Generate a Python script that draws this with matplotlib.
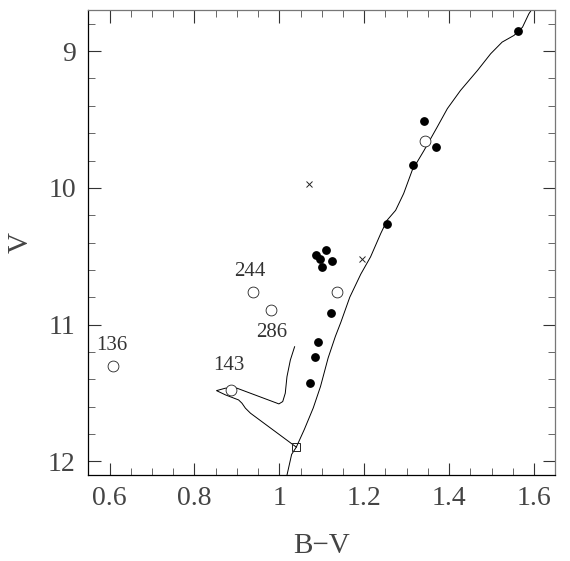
import matplotlib
matplotlib.use("Agg")
import matplotlib.pyplot as plt
from matplotlib.ticker import MultipleLocator

plt.rcParams['font.family'] = ['Liberation Serif', 'DejaVu Serif']

# member stars (filled), non-members / special (open), crosses, turnoff square
filled_bv = [1.562, 1.340, 1.369, 1.316, 1.254, 1.086, 1.110, 1.097, 1.124, 1.101,
             1.121, 1.092, 1.085, 1.073]
filled_v = [8.855, 9.512, 9.701, 9.834, 10.263, 10.491, 10.454, 10.518, 10.533, 10.581,
            10.914, 11.130, 11.238, 11.428]

open_bv = [1.343, 0.937, 0.981, 1.135, 0.609, 0.885]
open_v = [9.657, 10.759, 10.893, 10.760, 11.301, 11.480]

cross_bv = [1.069, 1.194]
cross_v = [9.970, 10.523]

square_bv = [1.040]
square_v = [11.895]

# star ids written next to some open circles
label_text = ['244', '286', '136', '143']
label_bv = [0.930, 0.981, 0.605, 0.882]
label_v = [10.612, 11.058, 11.155, 11.300]

# isochrone: giant branch and the clump/blue loop piece
iso_bv = [1.018, 1.029, 1.040, 1.059, 1.080, 1.097, 1.115, 1.132, 1.145, 1.166,
          1.192, 1.215, 1.239, 1.254, 1.274, 1.293, 1.313, 1.341, 1.372, 1.396,
          1.427, 1.467, 1.498, 1.525, 1.553, 1.573, 1.588, 1.596]
iso_v = [12.10, 11.948, 11.895, 11.765, 11.608, 11.452, 11.243, 11.086, 10.982, 10.799,
         10.630, 10.504, 10.333, 10.236, 10.164, 10.041, 9.872, 9.726, 9.555, 9.420,
         9.287, 9.141, 9.019, 8.934, 8.885, 8.825, 8.727, 8.690]

loop_bv = [1.036, 1.026, 1.018, 1.014, 1.008, 0.999, 0.900, 0.873, 0.852, 0.873,
           0.904, 0.912, 0.920, 0.932, 1.040]
loop_v = [11.161, 11.258, 11.380, 11.501, 11.562, 11.579, 11.464, 11.464, 11.482, 11.513,
          11.550, 11.574, 11.610, 11.647, 11.895]

fig = plt.figure(figsize=(5.70, 5.61), dpi=100)
ax = fig.add_axes([0.155, 0.153, 0.819, 0.829])

ax.plot(iso_bv, iso_v, color='black', lw=0.7)
ax.plot(loop_bv, loop_v, color='black', lw=0.7)

ax.plot(filled_bv, filled_v, 'o', ms=5.3, color='black', mec='black')
ax.plot(open_bv, open_v, 'o', ms=7.8, mfc='white', mec='#222222', mew=0.6)
ax.plot(cross_bv, cross_v, 'x', ms=4.5, color='#222222', mew=0.7)
ax.plot(square_bv, square_v, 's', ms=6.2, mfc='none', mec='#222222', mew=0.7)

for t, bx, vy in zip(label_text, label_bv, label_v):
    ax.text(bx, vy, t, ha='center', va='center', fontsize=15, color='#333333')

ax.set_xlim(0.55, 1.65)
ax.set_ylim(12.1, 8.7)

ax.xaxis.set_major_locator(MultipleLocator(0.2))
ax.xaxis.set_minor_locator(MultipleLocator(0.05))
ax.yaxis.set_major_locator(MultipleLocator(1))
ax.yaxis.set_minor_locator(MultipleLocator(0.2))
ax.set_xticks([0.6, 0.8, 1.0, 1.2, 1.4, 1.6])
ax.set_xticklabels(['0.6', '0.8', '1', '1.2', '1.4', '1.6'])

ax.tick_params(which='both', direction='in', top=True, right=True)
ax.tick_params(which='major', length=9, width=0.8, color='#333333',
               labelsize=20, labelcolor='#444444')
ax.tick_params(which='minor', length=4.7, width=0.7, color='#666666')
ax.tick_params(axis='x', which='major', pad=8)
ax.tick_params(axis='y', which='major', pad=9)

for side in ['left', 'bottom']:
    ax.spines[side].set_color('black')
    ax.spines[side].set_linewidth(0.9)
for side in ['top', 'right']:
    ax.spines[side].set_color('#777777')
    ax.spines[side].set_linewidth(0.9)

ax.set_xlabel('B\u2212V', fontsize=21, color='#444444')
ax.set_ylabel('V', fontsize=21, color='#444444')
ax.xaxis.set_label_coords(0.5, -0.153)
ax.xaxis.label.set_va('center')
ax.yaxis.set_label_coords(-0.146, 0.5)
ax.yaxis.label.set_va('center')

fig.savefig('out.png', dpi=100)
